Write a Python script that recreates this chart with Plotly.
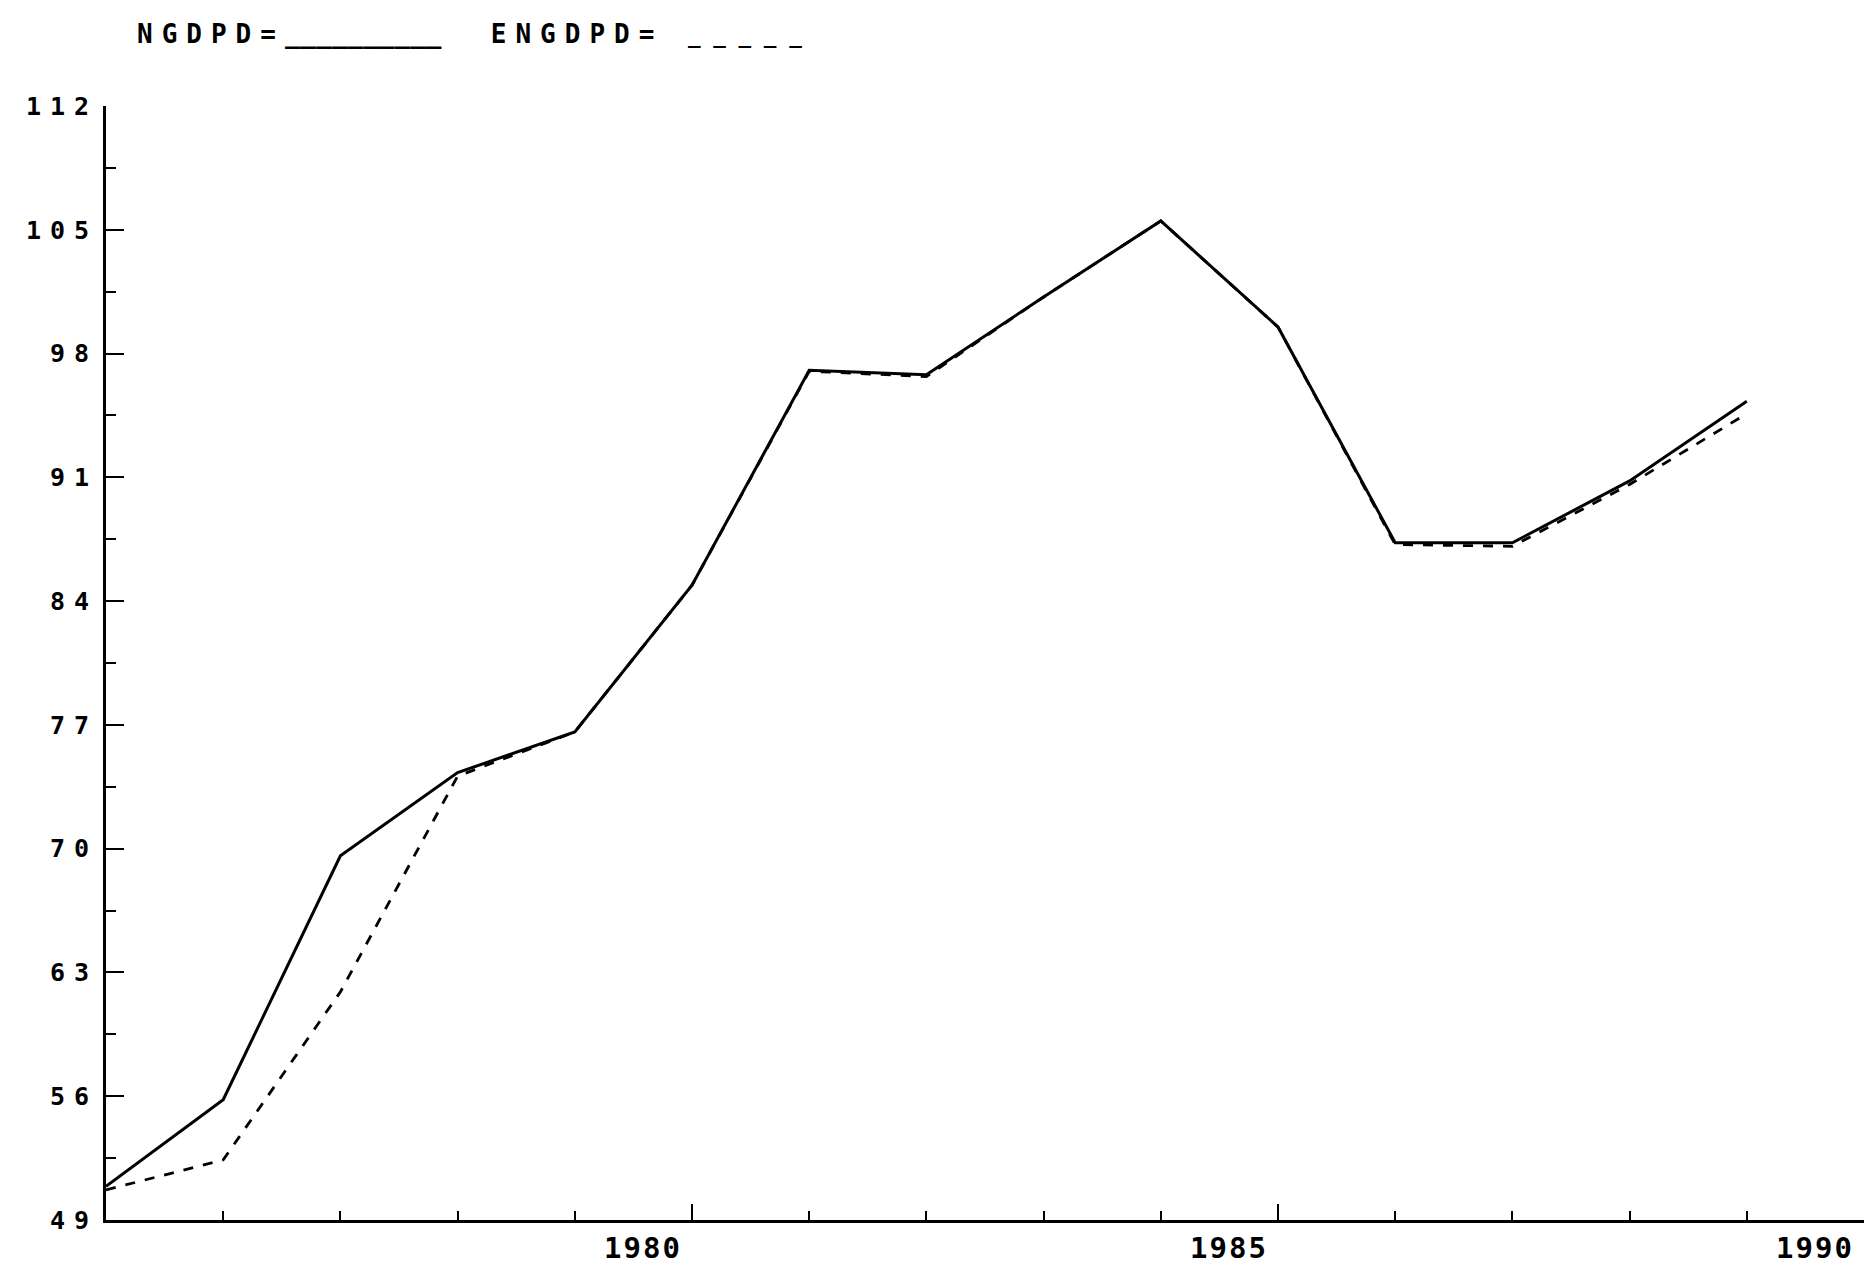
import plotly.graph_objects as go

# ---- data ----
years = [1975, 1976, 1977, 1978, 1979, 1980, 1981, 1982, 1983, 1984, 1985, 1986, 1987, 1988, 1989]
ngdpd = [50.9, 55.8, 69.6, 74.3, 76.6, 84.9, 97.05, 96.8, 101.2, 105.5, 99.5, 87.3, 87.3, 90.8, 95.3]
engdpd = [50.7, 52.4, 61.9, 74.1, 76.6, 84.9, 97.0, 96.7, 101.2, 105.5, 99.5, 87.2, 87.1, 90.6, 94.6]

y_tickvals = [49, 56, 63, 70, 77, 84, 91, 98, 105, 112]
y_ticklabels = ["49", "56", "63", "70", "77", "84", "91", "98", "105", "112"]
x_tickvals = [1980, 1985, 1990]
x_ticklabels = ["1980", "1985", "1990"]

FONT = "DejaVu Sans Mono"

def spaced(t, ls):
    return f'<span style="letter-spacing:{ls}px">{t}</span>'

fig = go.Figure()
fig.add_trace(go.Scatter(x=years, y=engdpd, mode="lines", name="ENGDPD",
                         line=dict(color="black", width=2.8, dash="10px,10px")))
fig.add_trace(go.Scatter(x=years, y=ngdpd, mode="lines", name="NGDPD",
                         line=dict(color="black", width=3)))

W, H = 1876, 1266
L, R, T, B = 106, 12, 106, 46

fig.update_layout(
    width=W, height=H,
    margin=dict(l=L, r=R, t=T, b=B, pad=0),
    paper_bgcolor="white", plot_bgcolor="white",
    showlegend=False,
    font=dict(family=FONT, color="black"),
)

fig.update_xaxes(
    range=[1975, 1990], showgrid=False, zeroline=False,
    showline=True, linecolor="black", linewidth=2.8,
    tickmode="array", tickvals=x_tickvals,
    ticktext=[spaced(t, 2) for t in x_ticklabels],
    ticks="inside", ticklen=16, tickwidth=2.2, tickcolor="black",
    tickfont=dict(family=FONT, size=29, color="black", weight="bold"),
    ticklabelshift=-49, ticklabelstandoff=0,
    minor=dict(ticks="inside", ticklen=9, tickwidth=2.2, tickcolor="black",
               tickmode="linear", tick0=1975, dtick=1),
    automargin=False,
)
fig.update_yaxes(
    range=[49, 112], showgrid=False, zeroline=False,
    showline=True, linecolor="black", linewidth=2.8,
    tickmode="array", tickvals=y_tickvals,
    ticktext=[spaced(t, 9) for t in y_ticklabels],
    ticks="inside", ticklen=18, tickwidth=2.2, tickcolor="black",
    tickfont=dict(family=FONT, size=25, color="black", weight="bold"),
    ticklabelstandoff=0,
    minor=dict(ticks="inside", ticklen=10, tickwidth=2.2, tickcolor="black",
               tickmode="linear", tick0=49, dtick=3.5),
    automargin=False,
)

plot_w = W - L - R
plot_h = H - T - B
legend_text = (spaced("NGDPD=", 9) + "__________" + spaced("  ENGDPD= ", 9)
               + '<span style="font-size:21px">_ _ _ _ _</span>')
fig.add_annotation(
    text=legend_text, showarrow=False,
    xref="paper", yref="paper",
    x=(135 - L) / plot_w, y=1 + (T - 34) / plot_h,
    xanchor="left", yanchor="middle",
    font=dict(family=FONT, size=26, color="black", weight="bold"),
)

fig.write_html("out.html", config={"displayModeBar": False},
               post_script="document.body.style.margin='0';")
